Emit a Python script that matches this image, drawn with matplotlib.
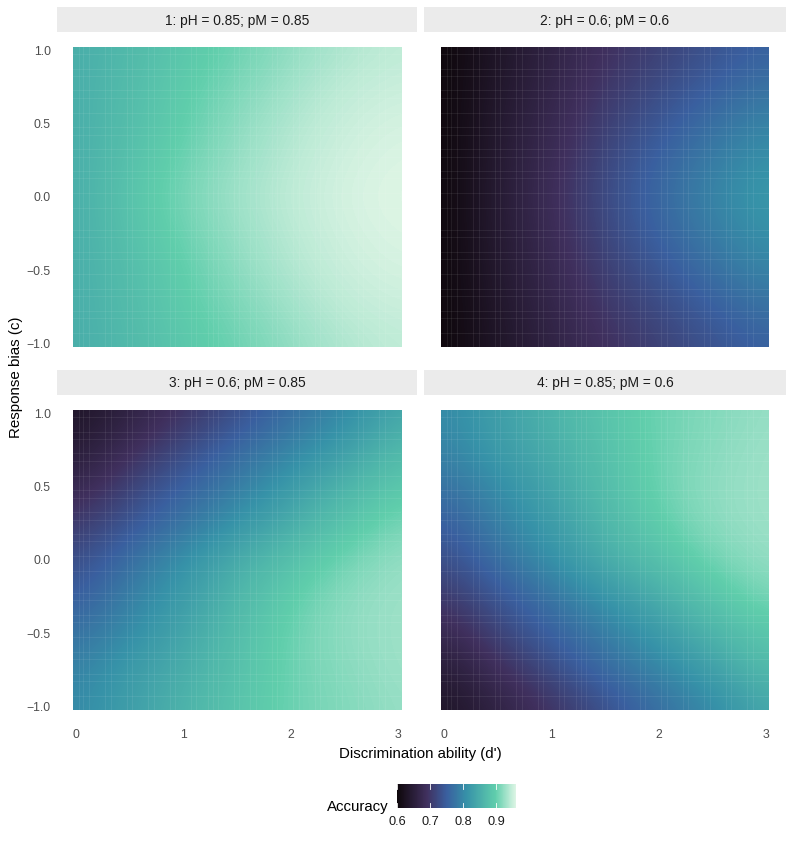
import numpy as np
import matplotlib
matplotlib.use("Agg")
import matplotlib.pyplot as plt
from matplotlib.colors import LinearSegmentedColormap, Normalize
from matplotlib.patches import Rectangle

plt.rcParams['font.family'] = ['Liberation Sans', 'DejaVu Sans']

W, H = 793, 842

# columns are d', rows go from c = 1 down to c = -1
d_prime = [0, 0.5, 1, 1.5, 2, 2.5, 3]
bias = [1, 0.75, 0.5, 0.25, 0, -0.25, -0.5, -0.75, -1]
titles = ["1: pH = 0.85; pM = 0.85", "2: pH = 0.6; pM = 0.6",
          "3: pH = 0.6; pM = 0.85", "4: pH = 0.85; pM = 0.6"]

acc_1 = [[.85, .868, .888, .905, .922, .937, .945],
         [.85, .872, .895, .912, .930, .945, .950],
         [.85, .875, .898, .920, .938, .950, .955],
         [.85, .880, .905, .925, .942, .953, .958],
         [.85, .885, .910, .930, .945, .955, .960],
         [.85, .880, .905, .925, .942, .953, .958],
         [.85, .875, .898, .920, .938, .950, .955],
         [.85, .872, .895, .912, .930, .945, .950],
         [.85, .868, .889, .905, .922, .937, .945]]

acc_2 = [[.60, .632, .662, .690, .712, .735, .755],
         [.60, .635, .668, .700, .725, .750, .775],
         [.60, .640, .675, .710, .740, .770, .797],
         [.60, .643, .680, .720, .755, .785, .812],
         [.60, .645, .685, .725, .762, .795, .822],
         [.60, .643, .680, .720, .755, .785, .812],
         [.60, .640, .675, .710, .740, .770, .797],
         [.60, .635, .668, .700, .725, .750, .775],
         [.60, .632, .662, .690, .712, .735, .755]]

acc_3 = [[.630, .660, .695, .730, .770, .800, .845],
         [.645, .685, .725, .765, .795, .830, .872],
         [.670, .715, .755, .785, .825, .860, .892],
         [.700, .740, .775, .815, .850, .885, .912],
         [.725, .770, .810, .850, .880, .908, .925],
         [.745, .790, .825, .865, .897, .920, .928],
         [.770, .805, .840, .875, .905, .922, .928],
         [.790, .825, .850, .880, .905, .918, .928],
         [.800, .830, .860, .885, .905, .915, .925]]

acc_4 = [[.800, .830, .860, .885, .905, .915, .925],
         [.790, .825, .850, .880, .905, .918, .928],
         [.770, .805, .840, .875, .905, .922, .928],
         [.745, .790, .825, .865, .897, .920, .928],
         [.725, .770, .810, .850, .880, .908, .925],
         [.700, .740, .775, .815, .850, .885, .912],
         [.670, .715, .755, .785, .825, .860, .892],
         [.645, .685, .725, .765, .795, .830, .872],
         [.630, .660, .695, .730, .770, .800, .845]]

panels = [acc_1, acc_2, acc_3, acc_4]
x_ticks = [0, 1, 2, 3]
y_ticks = [-1.0, -0.5, 0.0, 0.5, 1.0]
y_tick_labels = ["\u22121.0", "\u22120.5", "0.0", "0.5", "1.0"]
bar_ticks = [0.6, 0.7, 0.8, 0.9]
acc_min, acc_max = 0.6, 0.96

legend_map = LinearSegmentedColormap.from_list(
    "legend_map",
    [(0, "#0E070B"), (0.25, "#40305E"), (0.417, "#3A5F9F"), (0.583, "#3691A8"),
     (0.83, "#60CEAC"), (1, "#DEF5E5")])
norm = Normalize(acc_min, acc_max)

# faint seams between the tiles, pixels from the raster's left / top edge
seam_x = [5.7, 10.3, 16, 32.3, 37.7, 53.7, 59.3, 75.3, 81, 97, 102.3, 118.3, 123.3,
          134.7, 139.7, 145, 161, 166.3, 177.3, 182.7, 198.7, 204, 220.3, 225.7, 242,
          247.3, 263.3, 268.7, 285, 290.3, 306.3, 312]
seam_y = [7, 21.7, 29, 43.3, 51, 65.7, 80.3, 87.7, 102, 109.7, 124, 131.3, 146.3, 161.3,
          183, 190.3, 205, 212, 227.3, 241.7, 249, 263.7, 270.7, 285.7]


def px_axes(fig, left, top, right, bottom):
    return fig.add_axes([left / W, 1 - bottom / H, (right - left) / W, (bottom - top) / H])


fig = plt.figure(figsize=(W / 100, H / 100), dpi=100)

rasters = [(73, 47), (441, 47), (73, 410), (441, 410)]
strips = [(57, 7, 417), (424, 7, 786), (57, 370, 417), (424, 370, 786)]
rw, rh = 328, 300

for i, acc in enumerate(panels):
    left, top = rasters[i]
    ax = px_axes(fig, left, top, left + rw, top + rh)
    dx = (d_prime[1] - d_prime[0]) / 2
    dy = (bias[0] - bias[1]) / 2
    im = ax.imshow(acc, cmap=legend_map, norm=norm, aspect="auto", origin="upper",
                   interpolation="bicubic", interpolation_stage="data",
                   extent=(d_prime[0] - dx, d_prime[-1] + dx, bias[-1] - dy, bias[0] + dy))
    ax.set_xlim(-0.03, 3.03)
    ax.set_ylim(-1.024, 1.024)

    for s in seam_x:
        ax.plot([s / rw, s / rw], [0, 1], transform=ax.transAxes, color="white",
                lw=0.7, alpha=0.07)
    for s in seam_y:
        ax.plot([0, 1], [1 - s / rh, 1 - s / rh], transform=ax.transAxes, color="white",
                lw=0.7, alpha=0.07)

    for side in ax.spines.values():
        side.set_visible(False)
    ax.tick_params(length=0, labelsize=8.8, labelcolor="#4D4D4D")
    ax.tick_params(axis="x", pad=14)
    ax.tick_params(axis="y", pad=16)
    ax.set_xticks(x_ticks if i >= 2 else [])
    if i % 2 == 0:
        ax.set_yticks(y_ticks, y_tick_labels)
    else:
        ax.set_yticks([])

    sl, st, sr = strips[i]
    fig.add_artist(Rectangle((sl / W, 1 - (st + 25) / H), (sr - sl) / W, 25 / H,
                             transform=fig.transFigure, facecolor="#EBEBEB", edgecolor="none"))
    fig.text((sl + sr) / 2 / W, 1 - (st + 13.5) / H, titles[i], ha="center", va="center",
             fontsize=9.9, color="#1A1A1A")

fig.text(420 / W, 1 - 754 / H, "Discrimination ability (d')", ha="center", va="center", fontsize=10.8)
fig.text(16 / W, 1 - 377 / H, "Response bias (c)", ha="center", va="center", rotation=90, fontsize=10.9)

# legend
cax = px_axes(fig, 397, 784, 516, 808)
cbar = fig.colorbar(im, cax=cax, orientation="horizontal")
cbar.outline.set_visible(False)
cbar.set_ticks(bar_ticks, labels=["%.1f" % t for t in bar_ticks])
cax.tick_params(length=0, labelsize=9.2, pad=6, labelcolor="#1A1A1A")
cax.minorticks_off()
for t in bar_ticks:
    cax.plot([t, t], [0, 0.2], transform=cax.get_xaxis_transform(), color="white", lw=0.6)
    cax.plot([t, t], [0.8, 1], transform=cax.get_xaxis_transform(), color="white", lw=0.6)
cax.set_xlim(acc_min, acc_max)
fig.text(389 / W, 1 - 807 / H, "Accuracy", ha="right", va="center", fontsize=10.8)

fig.savefig("out.png", dpi=100)
